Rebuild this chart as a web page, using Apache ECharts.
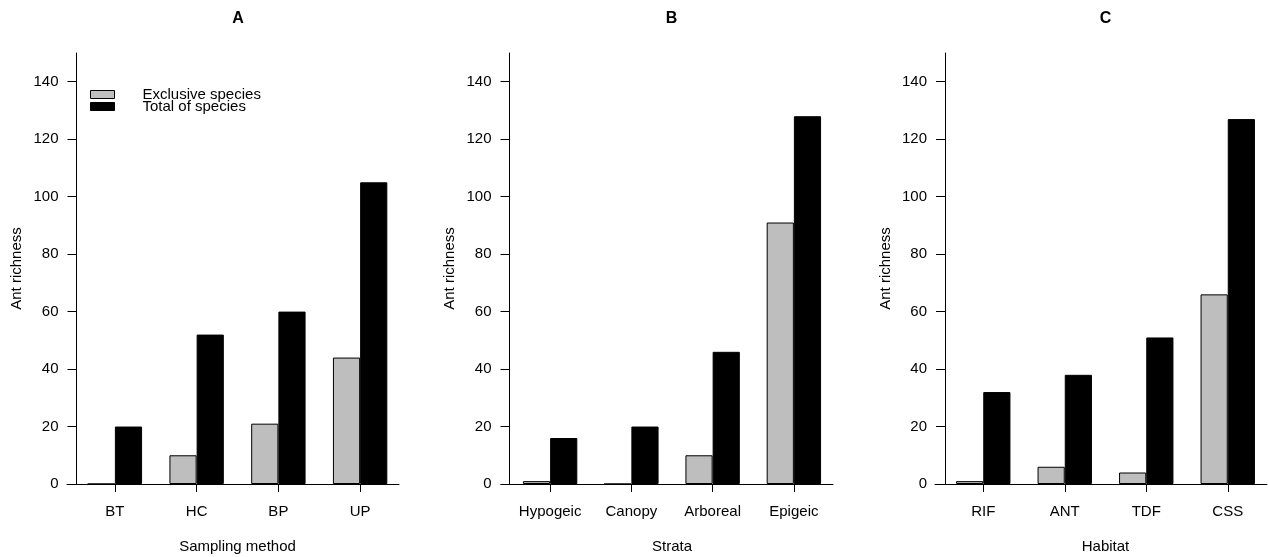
<!DOCTYPE html>
<html>
<head>
<meta charset="utf-8">
<script src="https://cdn.jsdelivr.net/npm/echarts@6/dist/echarts.min.js"></script>
<style>
html,body{margin:0;padding:0;background:#fff;}
#chart{width:1269px;height:557px;}
</style>
</head>
<body>
<div id="chart"></div>
<script>
// ---- data ----
const panelTitles = ['A', 'B', 'C'];
const axisNames = ['Sampling method', 'Strata', 'Habitat'];
const catsA = ['BT', 'HC', 'BP', 'UP'];
const catsB = ['Hypogeic', 'Canopy', 'Arboreal', 'Epigeic'];
const catsC = ['RIF', 'ANT', 'TDF', 'CSS'];
const exclusiveA = [0, 10, 21, 44];
const totalA = [20, 52, 60, 105];
const exclusiveB = [1, 0, 10, 91];
const totalB = [16, 20, 46, 128];
const exclusiveC = [1, 6, 4, 66];
const totalC = [32, 38, 51, 127];
const yTicks = [0, 20, 40, 60, 80, 100, 120, 140];
const seriesNames = ['Exclusive species', 'Total of species'];

// ---- layout ----
const FONT = 'Liberation Sans, Arial, sans-serif';
const barGrids = [
  {left: 74, width: 327, yOffset: -2.5},
  {left: 509.5, width: 325, yOffset: 0},
  {left: 942.5, width: 326, yOffset: -2.5}
];
const lineGrids = [
  {left: 67, width: 332},
  {left: 501, width: 332},
  {left: 935, width: 332}
];
const titleX = [238, 671.5, 1105.5];
const TOP = 53, HEIGHT = 431;

const cats = [catsA, catsB, catsC];
const excl = [exclusiveA, exclusiveB, exclusiveC];
const tot = [totalA, totalB, totalC];

const grid = [], xAxis = [], yAxis = [], series = [], title = [];
for (let i = 0; i < 3; i++) {
  grid.push({left: barGrids[i].left, width: barGrids[i].width, top: TOP, height: HEIGHT,
    containLabel: false, outerBoundsMode: 'none'});
  title.push({
    text: panelTitles[i], left: titleX[i], top: 11, textAlign: 'center', padding: 0,
    textStyle: {fontFamily: FONT, fontSize: 16, fontWeight: 'bold', color: '#000'}
  });
  xAxis.push({
    type: 'category', gridIndex: i, data: cats[i], boundaryGap: true,
    axisLine: {show: false},
    axisTick: {show: true, alignWithLabel: true, length: 8, lineStyle: {color: '#000', width: 1}},
    axisLabel: {margin: 20, fontFamily: FONT, fontSize: 15, color: '#000', interval: 0},
    name: axisNames[i], nameLocation: 'middle', nameGap: 55,
    nameTextStyle: {fontFamily: FONT, fontSize: 15, color: '#000'},
    splitLine: {show: false}
  });
  yAxis.push({
    type: 'value', gridIndex: i, min: 0, max: 150, offset: barGrids[i].yOffset,
    axisLine: {show: true, lineStyle: {color: '#000', width: 1}},
    axisTick: {show: true, length: 9, customValues: yTicks, lineStyle: {color: '#000', width: 1}},
    axisLabel: {margin: 18, customValues: yTicks, fontFamily: FONT, fontSize: 15, color: '#000'},
    splitLine: {show: false},
    name: 'Ant richness', nameLocation: 'middle', nameGap: 52,
    nameTextStyle: {fontFamily: FONT, fontSize: 15, color: '#000'}
  });
  series.push({
    name: seriesNames[0], type: 'bar', xAxisIndex: i, yAxisIndex: i,
    data: excl[i], barWidth: 27.2, barGap: '0%',
    itemStyle: {color: '#bebebe', borderColor: '#000', borderWidth: 1},
    emphasis: {disabled: true}
  });
  series.push({
    name: seriesNames[1], type: 'bar', xAxisIndex: i, yAxisIndex: i,
    data: tot[i], barWidth: 27.2, barGap: '0%',
    itemStyle: {color: '#000', borderColor: '#000', borderWidth: 1},
    emphasis: {disabled: true}
  });
}
// separate grids only for the (slightly longer) x-axis baselines
for (let i = 0; i < 3; i++) {
  grid.push({left: lineGrids[i].left, width: lineGrids[i].width, top: TOP, height: HEIGHT,
    containLabel: false, outerBoundsMode: 'none'});
  xAxis.push({
    type: 'value', gridIndex: 3 + i, min: 0, max: 1,
    axisLine: {show: true, onZero: false, lineStyle: {color: '#000', width: 1}},
    axisTick: {show: false}, axisLabel: {show: false}, splitLine: {show: false}
  });
  yAxis.push({type: 'value', gridIndex: 3 + i, min: 0, max: 1, show: false});
}

const chart = echarts.init(document.getElementById('chart'), null, {renderer: 'canvas'});
chart.setOption({
  animation: false,
  backgroundColor: '#fff',
  title: title,
  legend: {
    data: seriesNames, orient: 'vertical', left: 85, top: 82,
    itemWidth: 24, itemHeight: 8, itemGap: -3, icon: 'rect',
    selectedMode: false,
    itemStyle: {borderWidth: 1},
    textStyle: {fontFamily: FONT, fontSize: 15, color: '#000', lineHeight: 12, padding: [0, 0, 0, 23]}
  },
  grid: grid, xAxis: xAxis, yAxis: yAxis, series: series
});
</script>
</body>
</html>
